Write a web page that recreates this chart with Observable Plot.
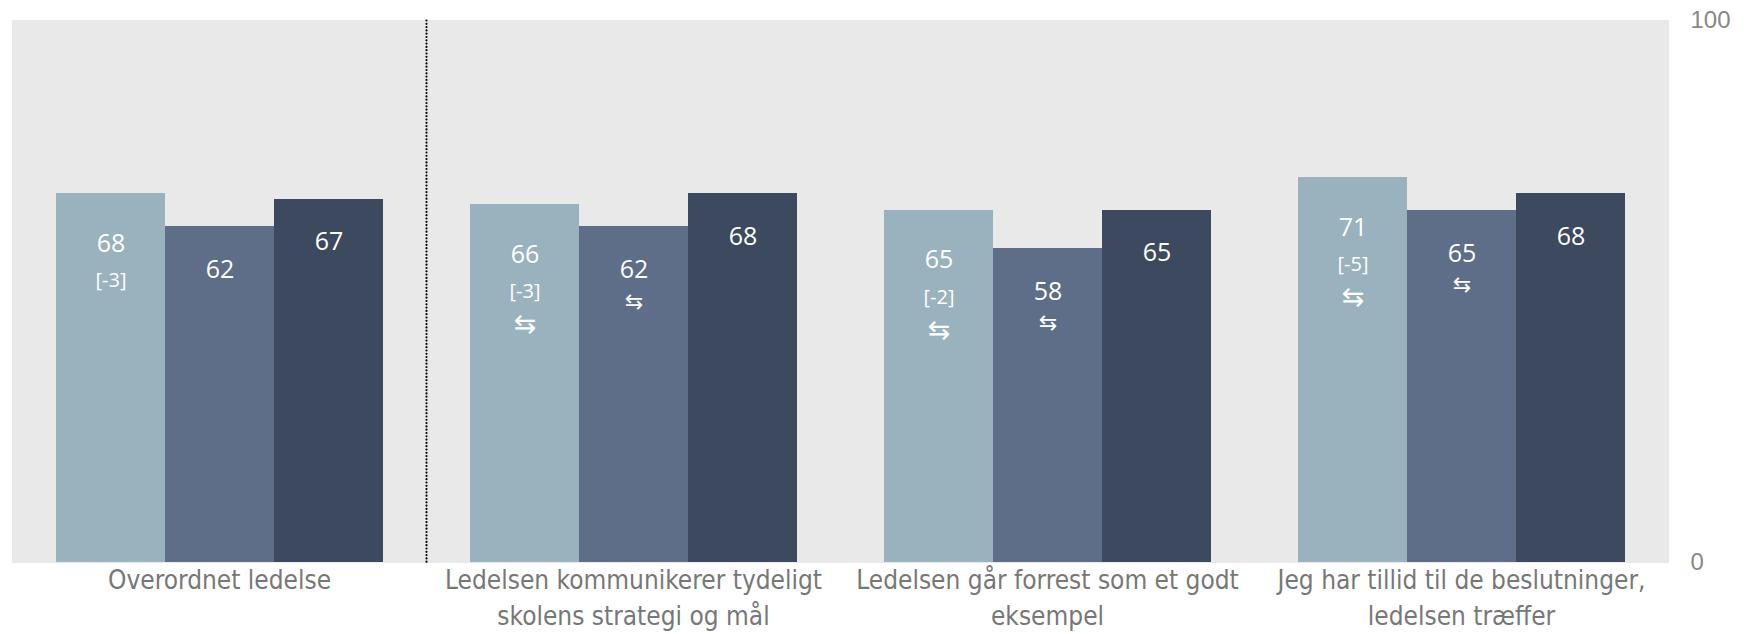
<!DOCTYPE html>
<html>
<head>
<meta charset="utf-8">
<script src="https://cdn.jsdelivr.net/npm/d3@7"></script>
<script src="https://cdn.jsdelivr.net/npm/@observablehq/plot@0.6"></script>
<style>
  html, body { margin: 0; padding: 0; background: #fff; }
</style>
</head>
<body>
<div id="chart"></div>
<script>
const categories = [
  "Overordnet ledelse",
  "Ledelsen kommunikerer tydeligt skolens strategi og mål",
  "Ledelsen går forrest som et godt eksempel",
  "Jeg har tillid til de beslutninger, ledelsen træffer"
];
const categoryLabels = [
  "Overordnet ledelse",
  "Ledelsen kommunikerer tydeligt\nskolens strategi og mål",
  "Ledelsen går forrest som et godt\neksempel",
  "Jeg har tillid til de beslutninger,\nledelsen træffer"
];
const series = ["Serie 1", "Serie 2", "Serie 3"];
const values1 = [68, 66, 65, 71];
const values2 = [62, 62, 58, 65];
const values3 = [67, 68, 65, 68];
const diffLabels1 = ["[-3]", "[-3]", "[-2]", "[-5]"];
const arrows1 = ["", "⇆", "⇆", "⇆"];
const arrows2 = ["", "⇆", "⇆", "⇆"];
const yTicks = [0, 100];

const colors = ["#9ab2bd", "#5e6e89", "#3c495e"];
const seriesValues = [values1, values2, values3];

const data = [];
categories.forEach((c, ci) => {
  series.forEach((s, si) => {
    data.push({
      category: c,
      series: s,
      value: seriesValues[si][ci],
      diff: si === 0 ? diffLabels1[ci] : "",
      arrow: si === 0 ? arrows1[ci] : si === 1 ? arrows2[ci] : ""
    });
  });
});

const labelMap = new Map(categories.map((c, i) => [c, categoryLabels[i]]));
const valueDy = [50, 44, 43];
const marks = [
  Plot.frame({fill: "#e9e9e9", stroke: "#e9e9e9", strokeWidth: 1, shapeRendering: "crispEdges"}),
  Plot.frame({anchor: "right", facetAnchor: "left", stroke: "#000", strokeWidth: 2.2, strokeLinecap: "round", strokeDasharray: "0,3.3"}),
  Plot.barY(data, {fx: "category", x: "series", y: "value", fill: "series", shapeRendering: "crispEdges"})
];
series.forEach((s, si) => {
  const sub = data.filter(d => d.series === s);
  marks.push(Plot.text(sub, {fx: "category", x: "series", y: "value", text: d => String(d.value),
    dy: valueDy[si], fill: "#fff", fontSize: 25, fontFamily: "'Open Sans', 'DejaVu Sans', sans-serif"}));
});
marks.push(Plot.text(data.filter(d => d.diff), {fx: "category", x: "series", y: "value", text: "diff",
  dy: 87, fill: "#fff", fontSize: 20, fontFamily: "'Open Sans', 'DejaVu Sans', sans-serif"}));
marks.push(Plot.text(data.filter(d => d.arrow && d.series === series[0]), {fx: "category", x: "series", y: "value", text: "arrow",
  dy: 120, fill: "#fff", fontSize: 27, fontFamily: "'DejaVu Sans', sans-serif"}));
marks.push(Plot.text(data.filter(d => d.arrow && d.series === series[1]), {fx: "category", x: "series", y: "value", text: "arrow",
  dy: 75, fill: "#fff", fontSize: 22, fontFamily: "'DejaVu Sans', sans-serif"}));
marks.push(Plot.axisFx({anchor: "bottom", tickSize: 0, tickPadding: 1, fontSize: 26, lineHeight: 1.38,
  fontFamily: "'DejaVu Sans Condensed', 'DejaVu Sans', sans-serif", fill: "#777",
  tickFormat: d => labelMap.get(d), label: null}));
marks.push(Plot.axisY({anchor: "right", ticks: yTicks, tickSize: 0, tickPadding: 22, fontSize: 24,
  fontFamily: "'Liberation Sans', Arial, sans-serif", fill: "#888", label: null, textAnchor: "start"}));

const chart = Plot.plot({
  width: 1747,
  height: 634,
  marginLeft: 12,
  marginRight: 79,
  marginTop: 20,
  marginBottom: 72,
  style: {background: "#fff", overflow: "visible"},
  fx: {domain: categories, paddingInner: 0, paddingOuter: 0, label: null},
  x: {domain: series, paddingInner: 0, paddingOuter: 0.382, axis: null},
  y: {domain: [0, 100], axis: null},
  color: {domain: series, range: colors},
  marks
});
document.getElementById("chart").appendChild(chart);
</script>
</body>
</html>
